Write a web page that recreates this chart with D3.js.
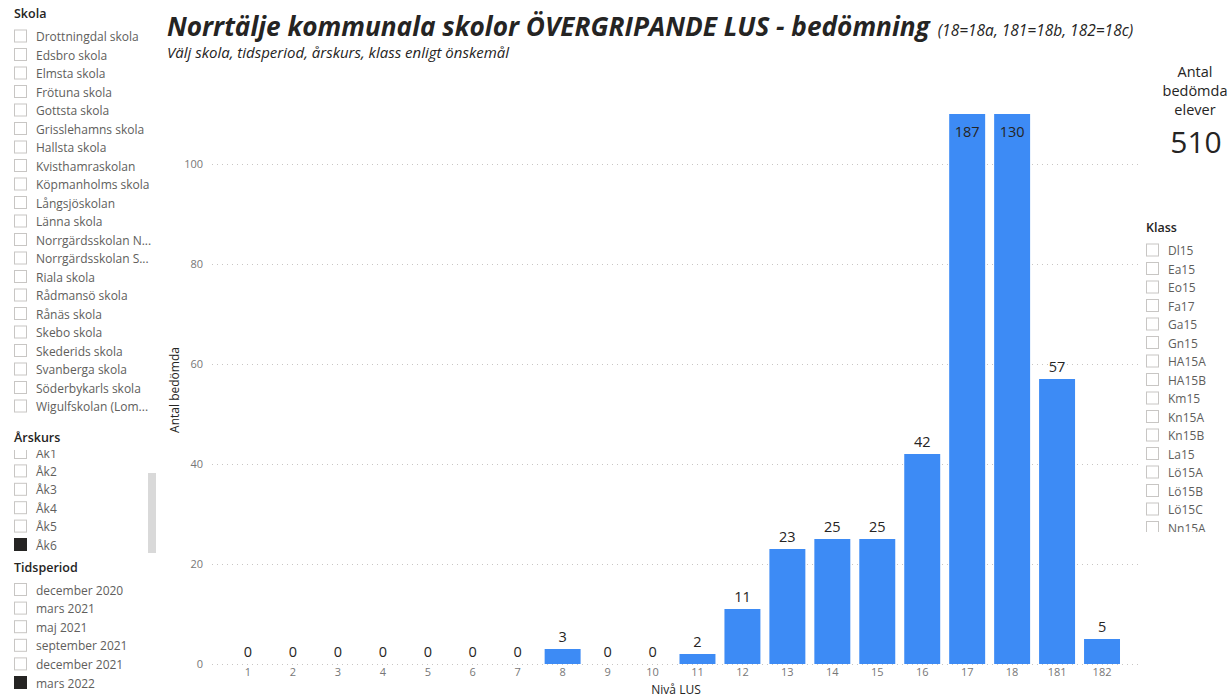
<!DOCTYPE html>
<html>
<head>
<meta charset="utf-8">
<script src="https://cdn.jsdelivr.net/npm/d3@7"></script>
<style>
  body { margin: 0; background: #fff; }
  svg { display: block; font-family: "Open Sans", "Noto Sans", sans-serif; }
</style>
</head>
<body>
<svg id="chart" width="1229" height="700"></svg>
<script>
// Chart data
const levels = ["1", "2", "3", "4", "5", "6", "7", "8", "9", "10", "11", "12", "13", "14", "15", "16", "17", "18", "181", "182"];
const counts = [0, 0, 0, 0, 0, 0, 0, 3, 0, 0, 2, 11, 23, 25, 25, 42, 187, 130, 57, 5];
const yTicks = [0, 20, 40, 60, 80, 100];
const yMax = 110; // axis is cut here, taller bars are clipped

// Slicer lists
const schools = ["Drottningdal skola", "Edsbro skola", "Elmsta skola", "Frötuna skola", "Gottsta skola",
  "Grisslehamns skola", "Hallsta skola", "Kvisthamraskolan", "Köpmanholms skola", "Långsjöskolan",
  "Länna skola", "Norrgärdsskolan N...", "Norrgärdsskolan S...", "Riala skola", "Rådmansö skola",
  "Rånäs skola", "Skebo skola", "Skederids skola", "Svanberga skola", "Söderbykarls skola", "Wigulfskolan (Lom..."];
const grades = ["Åk1", "Åk2", "Åk3", "Åk4", "Åk5", "Åk6"];
const gradesSelected = ["Åk6"];
const periods = ["december 2020", "mars 2021", "maj 2021", "september 2021", "december 2021", "mars 2022"];
const periodsSelected = ["mars 2022"];
const classes = ["Dl15", "Ea15", "Eo15", "Fa17", "Ga15", "Gn15", "HA15A", "HA15B", "Km15", "Kn15A",
  "Kn15B", "La15", "Lö15A", "Lö15B", "Lö15C", "Nn15A"];
const total = d3.sum(counts);

const svg = d3.select("#chart");
const barColor = "#3d8bf5";
const darkText = "#252423";
const greyText = "#605e5c";

// ---- Title ----
const title = svg.append("text")
  .attr("x", 167)
  .attr("y", 36)
  .style("fill", darkText);
title.append("tspan")
  .style("font-size", "26.2px")
  .style("font-weight", "bold")
  .style("font-style", "italic")
  .text("Norrtälje kommunala skolor ÖVERGRIPANDE LUS - bedömning");
title.append("tspan")
  .attr("dx", 8)
  .style("font-size", "15.5px")
  .style("font-style", "italic")
  .text("(18=18a, 181=18b, 182=18c)");

svg.append("text")
  .attr("x", 167)
  .attr("y", 58)
  .style("font-size", "15px")
  .style("font-style", "italic")
  .style("fill", darkText)
  .text("Välj skola, tidsperiod, årskurs, klass enligt önskemål");

// ---- Bar chart ----
const x = d3.scaleBand()
  .domain(levels)
  .range([225.5, 1124.5])
  .paddingInner(0.2)
  .paddingOuter(0.1);

const y = d3.scaleLinear()
  .domain([0, yMax])
  .range([664, 114]);

// Gridlines
svg.append("g")
  .selectAll("line")
  .data(yTicks)
  .enter()
  .append("line")
  .attr("x1", 212)
  .attr("x2", 1140)
  .attr("y1", (d) => y(d) + 0.5)
  .attr("y2", (d) => y(d) + 0.5)
  .attr("stroke", "#c8c6c4")
  .attr("stroke-dasharray", "1,4");

// Y axis labels
const yAxis = svg.append("g")
  .attr("transform", "translate(203,0)")
  .call(d3.axisLeft(y).tickValues(yTicks).tickSize(0).tickPadding(0));
yAxis.select(".domain").remove();
yAxis.selectAll("text")
  .style("font-family", "'Open Sans', sans-serif")
  .style("font-size", "11px")
  .style("fill", "#777");

// X axis labels
const xAxis = svg.append("g")
  .attr("transform", "translate(0,668)")
  .call(d3.axisBottom(x).tickSize(0).tickPadding(0));
xAxis.select(".domain").remove();
xAxis.selectAll("text")
  .style("font-family", "'Open Sans', sans-serif")
  .style("font-size", "11px")
  .style("fill", "#777");

// Clip for bars taller than the axis
svg.append("clipPath")
  .attr("id", "plotClip")
  .append("rect")
  .attr("x", 200)
  .attr("y", y(yMax))
  .attr("width", 960)
  .attr("height", y(0) - y(yMax));

const rows = levels.map((l, i) => ({ level: l, count: counts[i] }));

svg.append("g")
  .attr("clip-path", "url(#plotClip)")
  .selectAll(".bar")
  .data(rows)
  .enter()
  .append("rect")
  .attr("class", "bar")
  .attr("x", (d) => x(d.level))
  .attr("y", (d) => y(d.count))
  .attr("width", x.bandwidth())
  .attr("height", (d) => y(0) - y(d.count))
  .attr("fill", barColor);

// Data labels
svg.append("g")
  .selectAll(".label")
  .data(rows)
  .enter()
  .append("text")
  .attr("class", "label")
  .attr("x", (d) => x(d.level) + x.bandwidth() / 2)
  .attr("y", (d) => (d.count > yMax ? y(yMax) + 23 : y(d.count) - 7))
  .attr("text-anchor", "middle")
  .style("font-size", "14.5px")
  .style("fill", darkText)
  .text((d) => d.count);

// Axis titles
svg.append("text")
  .attr("transform", "rotate(-90)")
  .attr("x", -390)
  .attr("y", 179)
  .attr("text-anchor", "middle")
  .style("font-size", "12px")
  .style("fill", darkText)
  .text("Antal bedömda");

svg.append("text")
  .attr("x", 676)
  .attr("y", 694)
  .attr("text-anchor", "middle")
  .style("font-size", "12px")
  .style("fill", darkText)
  .text("Nivå LUS");

// ---- Card ----
const card = svg.append("text")
  .attr("text-anchor", "middle")
  .style("font-size", "14.5px")
  .style("fill", darkText);
["Antal", "bedömda", "elever"].forEach((t, i) => {
  card.append("tspan").attr("x", 1195).attr("y", 77 + i * 19).text(t);
});
svg.append("text")
  .attr("x", 1196)
  .attr("y", 153)
  .attr("text-anchor", "middle")
  .style("font-size", "30px")
  .style("fill", darkText)
  .text(total);

// ---- Slicers ----
function slicer(header, items, selected, left, headerY, firstY, step, clipTop, clipBottom) {
  const g = svg.append("g");
  g.append("text")
    .attr("x", left)
    .attr("y", headerY)
    .style("font-size", "12.5px")
    .style("font-weight", "600")
    .style("fill", darkText)
    .text(header);

  const clipId = "clip" + header.replace(/[^A-Za-z]/g, "");
  svg.append("clipPath")
    .attr("id", clipId)
    .append("rect")
    .attr("x", left - 2)
    .attr("y", clipTop)
    .attr("width", 160)
    .attr("height", clipBottom - clipTop);

  const list = g.append("g").attr("clip-path", `url(#${clipId})`);
  const row = list.selectAll("g")
    .data(items)
    .enter()
    .append("g")
    .attr("transform", (d, i) => `translate(${left},${firstY + i * step})`);

  row.append("rect")
    .attr("x", 0.5)
    .attr("y", -6.5)
    .attr("width", 12)
    .attr("height", 12)
    .attr("fill", (d) => (selected.includes(d) ? darkText : "#fff"))
    .attr("stroke", (d) => (selected.includes(d) ? darkText : "#c8c6c4"));

  row.append("text")
    .attr("x", 22)
    .attr("y", 4.5)
    .style("font-size", "12px")
    .style("fill", greyText)
    .text((d) => d);
}

slicer("Skola", schools, [], 14, 18, 36.5, 18.5, 24, 420);
slicer("Årskurs", grades, gradesSelected, 14, 442, 453, 18.4, 450, 556);
slicer("Tidsperiod", periods, periodsSelected, 14, 572, 590, 18.6, 578, 700);
slicer("Klass", classes, [], 1146, 232, 250.5, 18.5, 238, 532);

// Scrollbar on the Årskurs list
svg.append("rect")
  .attr("x", 148)
  .attr("y", 473)
  .attr("width", 8)
  .attr("height", 80)
  .attr("fill", "#d9d9d9");
</script>
</body>
</html>
